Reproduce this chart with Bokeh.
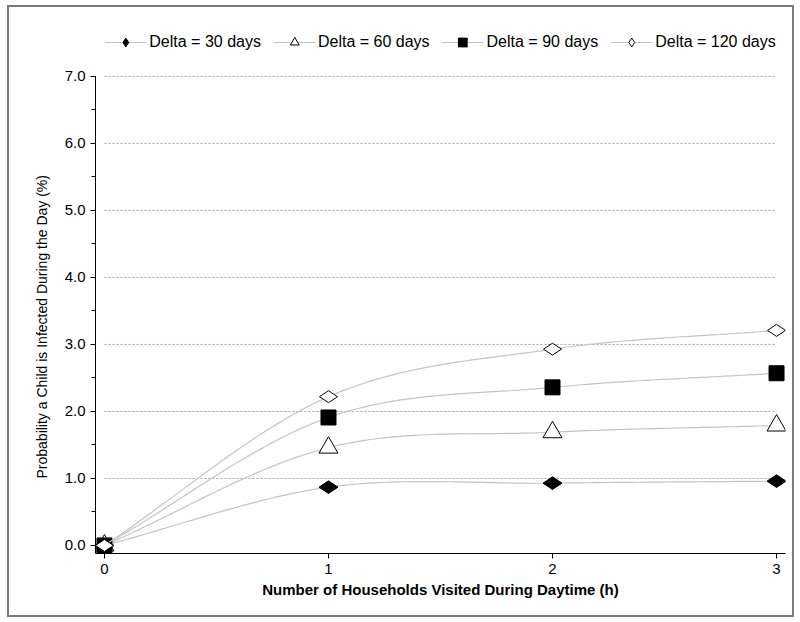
import numpy as np
from bokeh.plotting import figure
from bokeh.models import (Legend, LegendItem, SingleIntervalTicker, FixedTicker,
                          Range1d, NumeralTickFormatter, Title)
from bokeh.embed import file_html
from bokeh.resources import INLINE

# ---- data ----
households = [0, 1, 2, 3]
delta30 = [0.0, 0.87, 0.93, 0.96]
delta60 = [0.0, 1.46, 1.69, 1.79]
delta90 = [0.0, 1.91, 2.36, 2.57]
delta120 = [0.0, 2.22, 2.93, 3.21]
series_labels = ["Delta = 30 days", "Delta = 60 days", "Delta = 90 days", "Delta = 120 days"]
x_ticks = [0, 1, 2, 3]
y_ticks = [0, 1, 2, 3, 4, 5, 6, 7]

FONT = "Liberation Sans"


def smooth(xs, ys, n=40):
    """Rendering helper: a Catmull-Rom (Hermite) curve through the data points."""
    x = np.asarray(xs, float)
    y = np.asarray(ys, float)
    m = np.gradient(y, x)
    out_x, out_y = [], []
    t = np.linspace(0, 1, n)
    h00 = 2 * t**3 - 3 * t**2 + 1
    h10 = t**3 - 2 * t**2 + t
    h01 = -2 * t**3 + 3 * t**2
    h11 = t**3 - t**2
    for i in range(len(x) - 1):
        dx = x[i + 1] - x[i]
        out_x.extend(x[i] + t * dx)
        out_y.extend(h00 * y[i] + h10 * dx * m[i] + h01 * y[i + 1] + h11 * dx * m[i + 1])
    return out_x, out_y


p = figure(width=787, height=612, output_backend="svg", toolbar_location=None,
           x_range=Range1d(-0.04, 3.04), y_range=Range1d(-0.12, 7.82),
           min_border_left=86, min_border_right=11, min_border_top=14,
           min_border_bottom=66)
p.styles = {"border": "2px solid #7a7a7a", "margin-left": "7px", "margin-top": "5px"}
p.outline_line_color = None
p.xgrid.visible = False
p.ygrid.visible = False

# dashed gridlines spanning the data x-extent
p.segment(x0=[x_ticks[0]] * (len(y_ticks) - 1), x1=[x_ticks[-1]] * (len(y_ticks) - 1),
          y0=y_ticks[1:], y1=y_ticks[1:], line_color="#a0a0a0", line_dash="2 2",
          line_width=1)

LINE_COLOR = "#c4c4c4"
specs = [
    (delta30, dict(marker="diamond", size=19, angle=np.pi / 2, fill_color="black", line_color="black")),
    (delta60, dict(marker="triangle", size=19, fill_color="white", line_color="black")),
    (delta90, dict(marker="square", size=15, fill_color="black", line_color="black")),
    (delta120, dict(marker="diamond", size=18, angle=np.pi / 2, fill_color="white", line_color="black")),
]

items = []
for (vals, mk), lab in zip(specs, series_labels):
    sx, sy = smooth(households, vals)
    lr = p.line(sx, sy, line_color=LINE_COLOR, line_width=1.2)
    sr = p.scatter(households, vals, **mk)
    items.append(LegendItem(label=lab, renderers=[lr, sr]))

legend = Legend(items=items, orientation="horizontal", location="top_center",
                label_text_font=FONT, label_text_font_size="16px",
                label_text_color="black", glyph_width=42, glyph_height=22,
                label_standoff=3, spacing=12, padding=0, margin=10,
                border_line_color=None, background_fill_alpha=0)
p.add_layout(legend, "center")

# axes
p.xaxis.ticker = FixedTicker(ticks=x_ticks)
p.yaxis.ticker = SingleIntervalTicker(interval=1, num_minor_ticks=2)
p.yaxis.formatter = NumeralTickFormatter(format="0.0")
p.yaxis.bounds = (-0.12, 7.0)
for ax in (p.xaxis, p.yaxis):
    ax.axis_line_color = "black"
    ax.major_tick_line_color = "black"
    ax.major_tick_in = 0
    ax.major_tick_out = 5
    ax.major_label_text_font = FONT
    ax.major_label_text_font_size = "15px"
    ax.major_label_text_color = "black"
    ax.axis_label_text_color = "black"
p.yaxis.minor_tick_in = 0
p.yaxis.minor_tick_out = 4
p.yaxis.minor_tick_line_color = "black"
p.xaxis.minor_tick_line_color = None

p.xaxis.axis_label = "Number of Households Visited During Daytime (h)"
p.xaxis.axis_label_text_font = FONT
p.xaxis.axis_label_text_font_style = "bold"
p.xaxis.axis_label_text_font_size = "15px"
p.xaxis.axis_label_standoff = 4

# y-axis title as a side title, anchored from the bottom of the plot area
ytitle = Title(text="Probability a Child is Infected During the Day (%)",
               align="left", offset=75, text_font=FONT, text_font_size="14px",
               text_font_style="normal", text_color="black", standoff=24)
p.add_layout(ytitle, "left")

open("out.html", "w").write(file_html(p, INLINE))
